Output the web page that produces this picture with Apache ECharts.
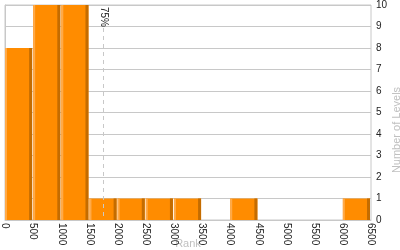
<!DOCTYPE html>
<html><head><meta charset="utf-8">
<script src="https://cdn.jsdelivr.net/npm/echarts@6/dist/echarts.min.js"></script>
<style>html,body{margin:0;padding:0;background:#fff}#c{width:400px;height:250px}</style>
</head><body><div id="c"></div>
<script>
const binStart = [0,500,1000,1500,2000,2500,3000,3500,4000,4500,5000,5500,6000];
const binEnd   = [500,1000,1500,2000,2500,3000,3500,4000,4500,5000,5500,6000,6500];
const levelCounts = [8,10,10,1,1,1,1,0,1,0,0,0,1];
const percentileRank = [1740];
const percentileLabel = ['75%'];
const rankTicks = [0,500,1000,1500,2000,2500,3000,3500,4000,4500,5000,5500,6000,6500];

const barData = binStart.map((s,i)=>[s, binEnd[i], levelCounts[i]]);
const chart = echarts.init(document.getElementById('c'), null, {renderer:'canvas'});
const font = 'Liberation Sans';
chart.setOption({
  animation:false,
  grid:{left:5,right:29,top:5,bottom:30,containLabel:false,outerBoundsMode:'none',show:true,borderColor:'#c8c8c8',borderWidth:1,backgroundColor:'transparent'},
  xAxis:{type:'value',min:rankTicks[0],max:rankTicks[rankTicks.length-1],interval:500,
    name:'Rank',nameLocation:'middle',nameGap:18,nameMoveOverlap:false,
    nameTextStyle:{color:'#c0c0c0',fontSize:11,fontFamily:font,verticalAlign:'top'},
    axisLine:{show:true,lineStyle:{color:'#c8c8c8'}},axisTick:{show:false},splitLine:{show:false},
    axisLabel:{rotate:-90,margin:3,fontSize:10,fontFamily:font,color:'#222',formatter:v=>String(v)}},
  yAxis:{type:'value',position:'right',min:0,max:10,interval:1,
    name:'Number of Levels',nameLocation:'middle',nameRotate:90,nameGap:20,nameMoveOverlap:false,
    nameTextStyle:{color:'#c0c0c0',fontSize:11,fontFamily:font,padding:[0,35,0,0]},
    axisLine:{show:true,lineStyle:{color:'#c8c8c8'}},axisTick:{show:false},
    splitLine:{show:true,lineStyle:{color:'#c8c8c8'}},
    axisLabel:{margin:5,fontSize:10,fontFamily:font,color:'#222'}},
  series:[{
    type:'custom',
    data:barData,
    encode:{x:[0,1],y:2},
    renderItem:function(params,api){
      const v=api.value(2);
      if(!v) return null;
      const s=api.coord([api.value(0),0]);
      const e=api.coord([api.value(1),v]);
      const x0=s[0], x1=e[0]-1, yt=e[1], yb=s[1];
      return {type:'group',children:[
        {type:'rect',shape:{x:x0,y:yt,width:x1-x0,height:yb-yt},style:{fill:'#FF8C00'}},
        {type:'rect',shape:{x:x0,y:yt,width:2,height:yb-yt},style:{fill:'#FFAA48'}},
        {type:'rect',shape:{x:x1-3,y:yt,width:3,height:yb-yt},style:{fill:'#C46C00'}}
      ]};
    }
  },{
    type:'custom',
    data:percentileRank.map((r,i)=>[r,percentileLabel[i]]),
    encode:{x:0},
    renderItem:function(params,api){
      const top=api.coord([api.value(0),10]);
      const bot=api.coord([api.value(0),0]);
      const x=Math.round(top[0])+0.5;
      return {type:'group',children:[
        {type:'line',shape:{x1:x,y1:top[1]+23,x2:x,y2:bot[1]},style:{stroke:'#c8c8c8',lineWidth:1,lineDash:[4,4]}},
        {type:'text',x:x,y:top[1]+2,rotation:-Math.PI/2,
          style:{text:percentileLabel[params.dataIndex],x:0,y:0,align:'left',verticalAlign:'middle',fontSize:10,fontFamily:font,fill:'#222'}}
      ]};
    }
  }]
});
</script></body></html>
